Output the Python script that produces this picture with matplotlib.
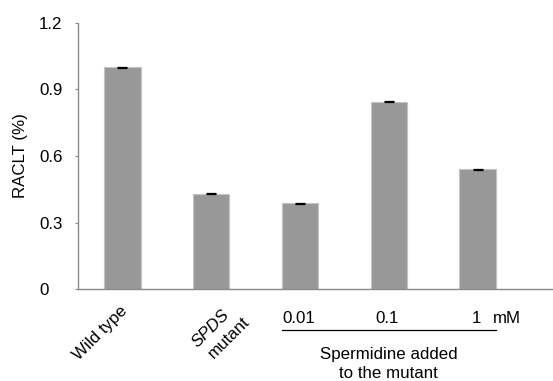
import matplotlib
matplotlib.use("Agg")
import matplotlib.pyplot as plt
import matplotlib.transforms as mtransforms
import numpy as np

plt.rcParams["font.family"] = ["Liberation Sans", "DejaVu Sans"]

# RACLT per condition
conditions = ["Wild type", "SPDS mutant", "0.01", "0.1", "1"]
raclt = [1.00, 0.43, 0.388, 0.845, 0.54]
raclt_err = [0.002, 0.002, 0.002, 0.002, 0.002]
yticks = [0, 0.3, 0.6, 0.9, 1.2]
ytick_labels = ["0", "0.3", "0.6", "0.9", "1.2"]

fs = 12.2
x = np.arange(len(conditions))

fig = plt.figure(figsize=(5.53, 3.81), dpi=100)
ax = fig.add_axes([0.141, 0.241, 0.859, 0.699])

ax.bar(x, raclt, width=0.41, color="#989898", edgecolor="#c4c4c4", linewidth=0.8, zorder=2)
ax.errorbar(x, raclt, yerr=raclt_err, fmt="none", ecolor="black",
            elinewidth=0.8, capsize=3.5, capthick=0.9, zorder=3)

ax.set_xlim(-0.50, 4.85)
ax.set_ylim(0, 1.2)
ax.set_yticks(yticks)
ax.set_yticklabels(ytick_labels)
ax.set_xticks([])

for side in ["top", "right"]:
    ax.spines[side].set_visible(False)
for side in ["left", "bottom"]:
    ax.spines[side].set_color("#8a8a8a")
    ax.spines[side].set_linewidth(1.0)

ax.tick_params(axis="y", direction="out", length=2.5, width=0.8, color="#8a8a8a",
               labelsize=fs, pad=25.5)
for lbl in ax.get_yticklabels():
    lbl.set_horizontalalignment("left")

ax.set_ylabel("RACLT (%)", fontsize=fs)
ax.yaxis.set_label_coords(-0.105, 0.5)

# category labels under the axis
xy_axis = ("data", "axes fraction")
ax.annotate("Wild type", xy=(0, 0), xycoords=xy_axis, xytext=(-15.8, -31.5),
            textcoords="offset points", rotation=45, ha="center", va="center",
            fontsize=fs, annotation_clip=False)
ax.annotate("SPDS", xy=(1, 0), xycoords=xy_axis, xytext=(-0.7, -28),
            textcoords="offset points", rotation=45, ha="center", va="center",
            fontsize=fs, style="italic", annotation_clip=False)
ax.annotate("mutant", xy=(1, 0), xycoords=xy_axis, xytext=(13.2, -34.8),
            textcoords="offset points", rotation=45, ha="center", va="center",
            fontsize=fs, annotation_clip=False)
for i in range(2, 5):
    ax.annotate(conditions[i], xy=(i, 0), xycoords=xy_axis, xytext=(-1, -21),
                textcoords="offset points", ha="center", va="center",
                fontsize=fs, annotation_clip=False)
ax.annotate("mM", xy=(4, 0), xycoords=xy_axis, xytext=(21, -21),
            textcoords="offset points", ha="center", va="center",
            fontsize=fs, annotation_clip=False)

# bracket for the spermidine treatments
trans = mtransforms.blended_transform_factory(ax.transData, ax.transAxes)
ax.plot([2 - 0.205, 4 + 0.205], [-0.154, -0.154], color="black", lw=0.9,
        transform=trans, clip_on=False)
ax.text(3, -0.28, "Spermidine added\nto the mutant", transform=trans,
        ha="center", va="center", fontsize=fs, linespacing=1.3)

fig.savefig("out.png", dpi=100)
